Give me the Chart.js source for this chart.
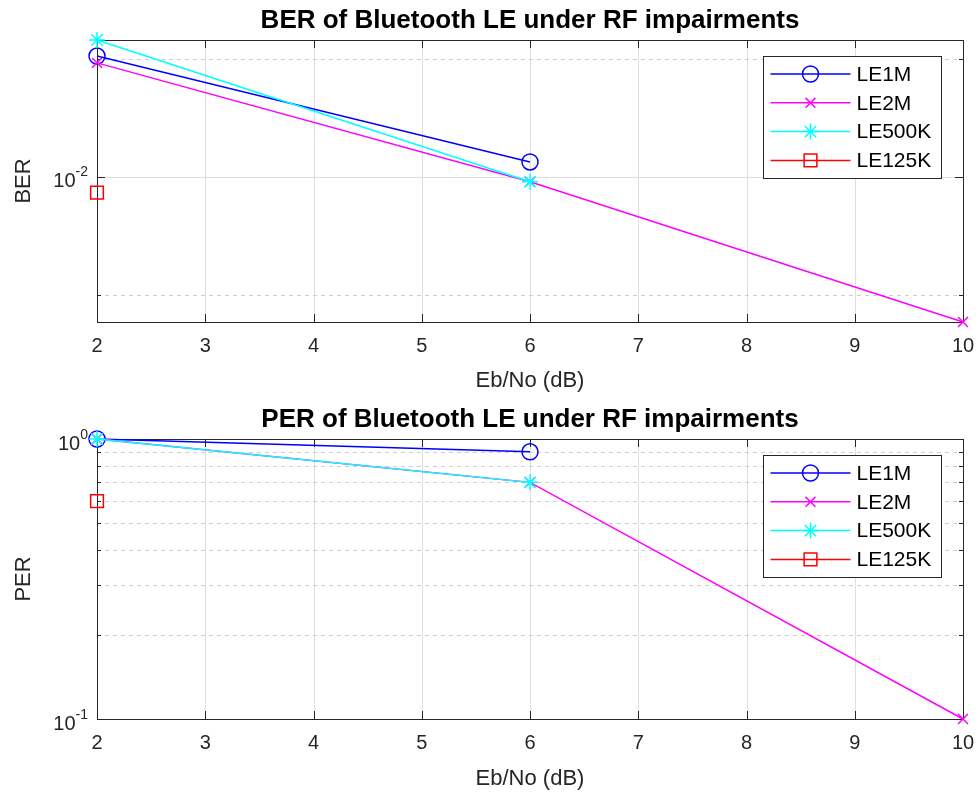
<!DOCTYPE html>
<html>
<head>
<meta charset="utf-8">
<script src="https://cdn.jsdelivr.net/npm/chart.js@4.4.1/dist/chart.umd.min.js"></script>
<style>
  html, body { margin: 0; padding: 0; background: #fff; }
  .panel { position: relative; width: 978px; }
</style>
</head>
<body>
<div class="panel" style="height:397px"><canvas id="chartBER"></canvas></div>
<div class="panel" style="height:398px"><canvas id="chartPER"></canvas></div>
<script>
// ─── Données ──────────────────────────────────────────────────────────────
const EBNO = [2, 6, 10];
const SERIES = ['LE1M', 'LE2M', 'LE500K', 'LE125K'];

const BER_LE1M   = [0.0203, 0.0109];
const BER_LE2M   = [0.0195, 0.0097, 0.00426];
const BER_LE500K = [0.0223, 0.0097];
const BER_LE125K = [0.0091];

const PER_LE1M   = [1.0, 0.9];
const PER_LE2M   = [1.0, 0.7, 0.1];
const PER_LE500K = [1.0, 0.7];
const PER_LE125K = [0.6];

const X_TICKS     = [2, 3, 4, 5, 6, 7, 8, 9, 10];
const BER_Y_TICKS = [0.005, 0.01, 0.02];
const PER_Y_TICKS = [0.1, 0.2, 0.3, 0.4, 0.5, 0.6, 0.7, 0.8, 0.9, 1];
const BER_RANGE   = [0.00426, 0.0223];
const PER_RANGE   = [0.1, 1];

// ─── Style MATLAB ─────────────────────────────────────────────────────────
const FONT   = '"Liberation Sans", Arial, Helvetica, sans-serif';
const INK    = '#262626';
const GRID   = '#dedede';
const MARKERS = {
  LE1M:   { color: '#0000ff', style: 'circle',   radius: 8 },
  LE2M:   { color: '#ff00ff', style: 'crossRot', radius: 7 },
  LE500K: { color: '#00ffff', style: 'star',     radius: 8 },
  LE125K: { color: '#ff0000', style: 'rect',     radius: 9 },
};

function isDecade(v) {
  const l = Math.log10(v);
  return Math.abs(l - Math.round(l)) < 1e-9;
}

function toPoints(vals) {
  return vals.map((y, i) => ({ x: EBNO[i], y }));
}

// MATLAB : la dernière série tracée passe au-dessus -> order décroissant
function buildDatasets(values) {
  return SERIES.map((name, i) => {
    const m = MARKERS[name];
    return {
      label: name,
      data: toPoints(values[i]),
      order: SERIES.length - i,
      borderColor: m.color,
      backgroundColor: 'rgba(0,0,0,0)',
      borderWidth: 1.5,
      pointStyle: m.style,
      pointRadius: m.radius,
      pointHoverRadius: m.radius,
      pointBorderWidth: 1.5,
      pointBorderColor: m.color,
      pointBackgroundColor: 'rgba(0,0,0,0)',
      tension: 0,
      clip: false,
    };
  });
}

// ─── Plugin : grille, boîte, ticks internes, labels 10^n, légende, titre ─
const matlabAxes = {
  id: 'matlabAxes',
  beforeDatasetsDraw(chart) {
    const { ctx, chartArea: a, scales: { x, y } } = chart;
    ctx.save();
    ctx.lineWidth = 1;
    // grille verticale
    ctx.strokeStyle = GRID;
    X_TICKS.forEach((v) => {
      const px = Math.round(x.getPixelForValue(v)) + 0.5;
      ctx.beginPath(); ctx.moveTo(px, a.top); ctx.lineTo(px, a.bottom); ctx.stroke();
    });
    // grille horizontale (décades pleines, mineures pointillées)
    y.ticks.forEach((t) => {
      const py = Math.round(y.getPixelForValue(t.value)) + 0.5;
      ctx.setLineDash(isDecade(t.value) ? [] : [4, 4]);
      ctx.strokeStyle = isDecade(t.value) ? GRID : '#cfcfcf';
      ctx.beginPath(); ctx.moveTo(a.left, py); ctx.lineTo(a.right, py); ctx.stroke();
    });
    ctx.setLineDash([]);
    // boîte
    ctx.strokeStyle = INK;
    ctx.strokeRect(Math.round(a.left) + 0.5, Math.round(a.top) + 0.5,
                   Math.round(a.right - a.left), Math.round(a.bottom - a.top));
    // ticks internes
    ctx.beginPath();
    X_TICKS.forEach((v) => {
      const px = Math.round(x.getPixelForValue(v)) + 0.5;
      ctx.moveTo(px, a.bottom); ctx.lineTo(px, a.bottom - 8);
      ctx.moveTo(px, a.top);    ctx.lineTo(px, a.top + 8);
    });
    y.ticks.forEach((t) => {
      const len = isDecade(t.value) ? 8 : 4;
      const py = Math.round(y.getPixelForValue(t.value)) + 0.5;
      ctx.moveTo(a.left, py);  ctx.lineTo(a.left + len, py);
      ctx.moveTo(a.right, py); ctx.lineTo(a.right - len, py);
    });
    ctx.stroke();

    // labels 10^n avec exposant
    ctx.fillStyle = INK;
    ctx.textBaseline = 'middle';
    ctx.textAlign = 'right';
    y.ticks.filter((t) => isDecade(t.value)).forEach((t) => {
      const py  = y.getPixelForValue(t.value);
      const exp = String(Math.round(Math.log10(t.value)));
      ctx.font = '14px ' + FONT;
      const ew = ctx.measureText(exp).width;
      const xr = a.left - 9;
      ctx.fillText(exp, xr, py - 4);
      ctx.font = '20px ' + FONT;
      ctx.fillText('10', xr - ew, py + 5);
    });
    ctx.restore();
  },
  afterDraw(chart, args, opts) {
    const { ctx, chartArea: a } = chart;
    ctx.save();
    // titre
    ctx.fillStyle = '#000';
    ctx.font = 'bold 26px ' + FONT;
    ctx.textAlign = 'center';
    ctx.textBaseline = 'middle';
    ctx.fillText(opts.title, (a.left + a.right) / 2, opts.titleY);

    // légende
    const bw = 178, bh = 122;
    const bx = Math.round(a.right - 22 - bw) + 0.5;
    const by = Math.round(a.top + 16) + 0.5;
    ctx.fillStyle = '#fff';
    ctx.fillRect(bx, by, bw, bh);
    ctx.strokeStyle = INK;
    ctx.lineWidth = 1;
    ctx.strokeRect(bx, by, bw, bh);
    ctx.font = '21px ' + FONT;
    ctx.textAlign = 'left';
    chart.data.datasets.forEach((ds, i) => {
      const yy = by + 17.5 + i * 28.8;
      ctx.strokeStyle = ds.borderColor;
      ctx.lineWidth = 1.5;
      ctx.beginPath(); ctx.moveTo(bx + 7, yy); ctx.lineTo(bx + 87, yy); ctx.stroke();
      ctx.fillStyle = 'rgba(0,0,0,0)';
      Chart.helpers.drawPoint(ctx, {
        pointStyle: ds.pointStyle, radius: ds.pointRadius, rotation: 0, borderWidth: 1.5,
      }, bx + 47, yy);
      ctx.fillStyle = '#000';
      ctx.fillText(ds.label, bx + 93, yy + 1);
    });
    ctx.restore();
  },
};

function makeChart(id, cfg) {
  return new Chart(document.getElementById(id), {
    type: 'line',
    data: { datasets: buildDatasets(cfg.values) },
    plugins: [matlabAxes],
    options: {
      responsive: true, maintainAspectRatio: false, animation: false,
      layout: { padding: { left: 0, right: 15, top: cfg.padTop, bottom: 0 } },
      plugins: {
        legend: { display: false },
        tooltip: { enabled: false },
        matlabAxes: { title: cfg.title, titleY: cfg.titleY },
      },
      scales: {
        x: {
          type: 'linear', min: 2, max: 10,
          afterBuildTicks: (s) => { s.ticks = X_TICKS.map((v) => ({ value: v })); },
          afterFit: (s) => { s.height = cfg.xHeight; s.paddingLeft = 0; s.paddingRight = 0; },
          grid: { display: false, drawTicks: false },
          border: { display: false },
          ticks: { font: { family: FONT, size: 20 }, color: INK, padding: 12, autoSkip: false, maxRotation: 0 },
          title: { display: true, text: 'Eb/No (dB)', color: INK, font: { family: FONT, size: 22 },
                   padding: { top: 0, bottom: 3 } },
        },
        y: {
          type: 'logarithmic', min: cfg.range[0], max: cfg.range[1], bounds: 'data',
          afterBuildTicks: (s) => { s.ticks = cfg.yTicks.map((v) => ({ value: v })); },
          afterFit: (s) => { s.width = 97; s.paddingTop = 0; s.paddingBottom = 0; },
          grid: { display: false, drawTicks: false },
          border: { display: false },
          // les libellés 10^n sont dessinés par le plugin (exposant)
          ticks: { display: false },
          title: { display: true, text: cfg.yLabel, color: INK, font: { family: FONT, size: 22 },
                   padding: { top: 11, bottom: 0 } },
        },
      },
    },
  });
}

makeChart('chartBER', {
  title: 'BER of Bluetooth LE under RF impairments', titleY: 21,
  yLabel: 'BER', padTop: 40, xHeight: 75,
  values: [BER_LE1M, BER_LE2M, BER_LE500K, BER_LE125K],
  yTicks: BER_Y_TICKS, range: BER_RANGE,
});

makeChart('chartPER', {
  title: 'PER of Bluetooth LE under RF impairments', titleY: 23,
  yLabel: 'PER', padTop: 42, xHeight: 76,
  values: [PER_LE1M, PER_LE2M, PER_LE500K, PER_LE125K],
  yTicks: PER_Y_TICKS, range: PER_RANGE,
});
</script>
</body>
</html>
